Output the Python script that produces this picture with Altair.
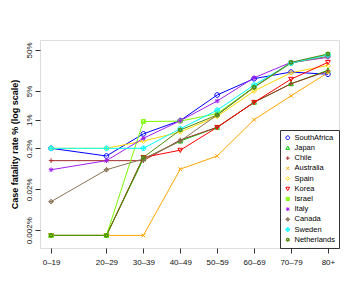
import altair as alt
import pandas as pd

# ---- data (percent case fatality; 0 = no deaths) ----
age_labels = ["0–19", "20–29", "30–39", "40–49", "50–59", "60–69", "70–79", "80+"]
age_mid = [10, 25, 35, 45, 55, 65, 75, 85]

countries = ["SouthAfrica", "Japan", "Chile", "Australia", "Spain", "Korea",
             "Israel", "Italy", "Canada", "Sweden", "Netherlands"]

south_africa = [0.2, 0.13, 0.45, 0.95, 4.0, 10.0, 14.5, 12.8]
japan = [0, 0, 0.11, 0.3, 0.65, 2.65, 7.5, 16.0]
chile = [0.1, 0.1, 0.1, 0.32, 0.65, 2.65, 7.5, 15.4]
australia = [0, 0, 0, 0.062, 0.13, 1.0, 3.8, 14.0]
spain = [0.2, 0.2, 0.3, 0.5, 1.2, 5.0, 14.0, 21.0]
korea = [0, 0, 0.12, 0.18, 0.65, 2.65, 9.7, 25.0]
israel = [0, 0, 0.9, 0.92, 1.4, 6.2, 24.0, 39.0]
italy = [0.06, 0.1, 0.35, 0.94, 2.85, 10.5, 25.0, 33.0]
canada = [0.01, 0.06, 0.11, 0.3, 1.3, 6.2, 24.0, 35.0]
sweden = [0.2, 0.2, 0.2, 0.6, 1.7, 7.0, 24.0, 38.0]
netherlands = [0, 0, 0.12, 0.56, 1.3, 6.2, 25.0, 40.0]

series = [south_africa, japan, chile, australia, spain, korea,
          israel, italy, canada, sweden, netherlands]

zero_floor = 0.0015  # zeros drawn at the bottom of the log axis

colors = ["#0000FF", "#00CD00", "#A52A2A", "#FFA500", "#FFD700", "#FF0000",
          "#7CFC00", "#A020F0", "#8B7355", "#00FFFF", "#4F8A10"]

shapes = [
    "M1,0A1,1 0 1,1 -1,0A1,1 0 1,1 1,0Z",                                   # circle
    "M0,-1L1,0.8L-1,0.8Z",                                                 # triangle
    "M-1,0L1,0M0,-1L0,1",                                                  # plus
    "M-0.8,-0.8L0.8,0.8M-0.8,0.8L0.8,-0.8",                                # x
    "M0,-1L1,0L0,1L-1,0Z",                                                 # diamond
    "M0,1L1,-0.8L-1,-0.8Z",                                                # inverted triangle
    "M-0.8,-0.8L0.8,-0.8L0.8,0.8L-0.8,0.8Z M-0.8,-0.8L0.8,0.8M-0.8,0.8L0.8,-0.8",  # square x
    "M-1,0L1,0M0,-1L0,1M-0.75,-0.75L0.75,0.75M-0.75,0.75L0.75,-0.75",       # asterisk
    "M0,-1L1,0L0,1L-1,0Z M-1,0L1,0M0,-1L0,1",                              # diamond plus
    "M1,0A1,1 0 1,1 -1,0A1,1 0 1,1 1,0Z M-1,0L1,0M0,-1L0,1",               # circle plus
    "M0,-1L0.87,0.5L-0.87,0.5Z M0,1L0.87,-0.5L-0.87,-0.5Z",                # hexagram
]

rows = []
for ci, (c, vals) in enumerate(zip(countries, series)):
    for lab, xm, v in zip(age_labels, age_mid, vals):
        rows.append({"country": c, "order": ci, "age": lab, "x": xm,
                     "cfr": v if v > 0 else zero_floor})
df = pd.DataFrame(rows)

label_expr = " : ".join(
    f"datum.value == {m} ? '{l}'" for m, l in zip(age_mid, age_labels)) + " : ''"

x = alt.X("x:Q", scale=alt.Scale(domain=[7, 88], nice=False, zero=False),
          axis=alt.Axis(values=age_mid, labelExpr=label_expr, title=None,
                        grid=False, domain=False, tickSize=5, tickColor="#333",
                        labelPadding=5, labelFontSize=8, labelColor="#111"))
y = alt.Y("cfr:Q", scale=alt.Scale(type="log", domain=[0.00074, 87.7], nice=False),
          axis=alt.Axis(values=[0.002, 0.02, 0.2, 1, 5, 50],
                        labelExpr="datum.value + '%'", grid=False, domain=False,
                        tickSize=5, tickColor="#333", labelAngle=270,
                        labelAlign="center", labelBaseline="bottom",
                        labelPadding=2, labelFontSize=8, labelColor="#111",
                        title="Case fatality rate % (log scale)",
                        titleFontSize=9, titleFontWeight="bold",
                        titleAngle=270, titleX=-26, titleY=104,
                        titleAlign="center", titleBaseline="middle"))

color = alt.Color("country:N", scale=alt.Scale(domain=countries, range=colors),
                  legend=alt.Legend(title=None, orient="bottom-right", offset=0,
                                    padding=4, strokeColor="#333", fillColor="white",
                                    labelFontSize=7.5, symbolSize=14, rowPadding=1.2,
                                    labelOffset=3, symbolStrokeWidth=1))
shape = alt.Shape("country:N", scale=alt.Scale(domain=countries, range=shapes),
                  legend=alt.Legend(title=None, orient="bottom-right"))

base = alt.Chart(df)
lines = base.mark_line(strokeWidth=1).encode(x=x, y=y, color=color,
                                             order=alt.Order("x:Q"),
                                             detail="country:N")
points = base.mark_point(filled=False, size=22, strokeWidth=1, opacity=1).encode(
    x=x, y=y, color=color, shape=shape)

chart = alt.layer(lines, points).properties(
    width=299, height=208,
    autosize=alt.AutoSizeParams(type="none"),
    padding={"left": 32, "top": 32, "right": 13, "bottom": 44},
).configure_view(stroke="#444", strokeWidth=1).configure(
    font="Liberation Sans")

chart.save("out.html", embed_options={"renderer": "svg", "actions": False})
